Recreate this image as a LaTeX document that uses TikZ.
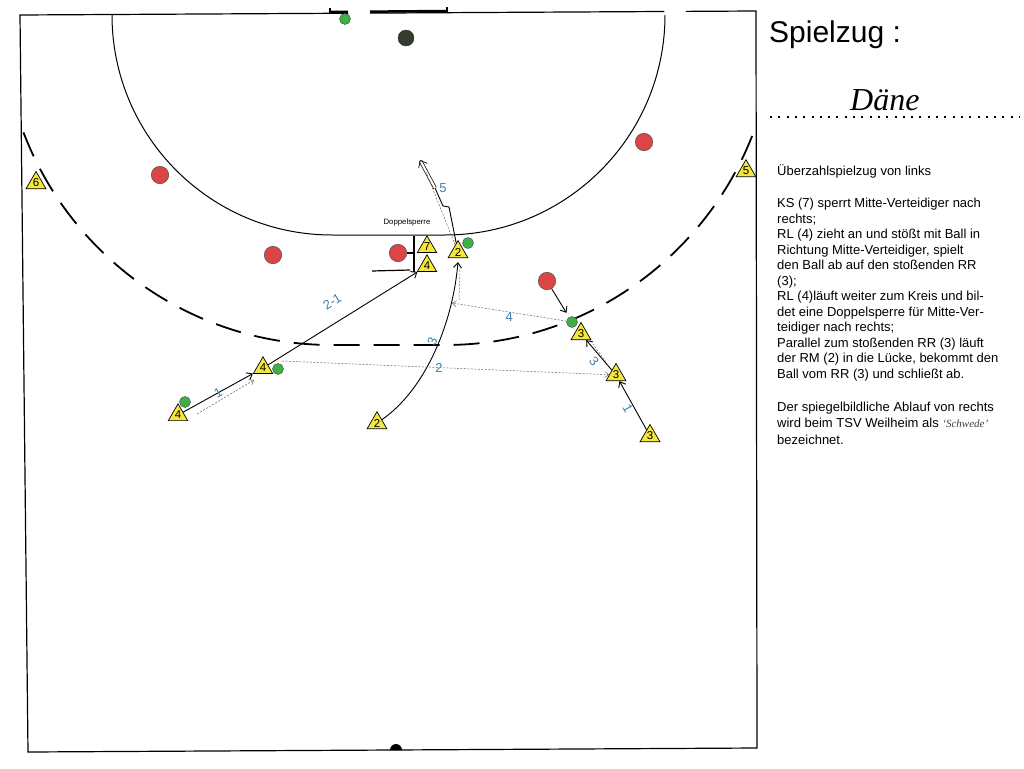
\documentclass[tikz,border=0pt]{standalone}
\usepackage{fontspec}
\setmainfont{Liberation Sans}
\newfontfamily\daene{Liberation Serif}
\usepackage{tikz}
\usetikzlibrary{shapes.geometric,arrows.meta,positioning,calc}
\definecolor{spieler}{RGB}{245,230,60}
\definecolor{abwehrrot}{RGB}{218,70,70}
\definecolor{ballgruen}{RGB}{62,176,72}
\definecolor{torwart}{RGB}{52,60,46}
\definecolor{nummerblau}{RGB}{62,128,172}

\begin{document}
\begin{tikzpicture}[x=1pt, y=-1pt,
        angreifer/.style={regular polygon, regular polygon sides=3, draw, line width=0.7pt, fill=spieler, minimum size=22pt, inner sep=0pt, font=\fontsize{11.5}{11.5}\selectfont},
        abwehr/.style={circle, draw=black!75, fill=abwehrrot, minimum size=17.5pt, inner sep=0pt},
        ball/.style={circle, draw=black!75, fill=ballgruen, minimum size=11pt, inner sep=0pt},
        lauf/.style={draw, -{Straight Barb[length=5pt,width=8pt]}, line width=0.9pt},
        pass/.style={draw, -{Straight Barb[length=4pt,width=6pt]}, black!60, line width=0.5pt, dash pattern=on 2pt off 1.5pt},
        nr/.style={text=nummerblau, inner sep=1pt, font=\fontsize{13}{13}\selectfont},
        linie/.style={line width=1.2pt}]
        \useasboundingbox (0,0) rectangle (1024,768);
        \fill[white] (0,0) rectangle (1024,768);

        % Spielfeld
        \draw[linie] (20,15) -- (756,11) -- (757,748) -- (28,752) -- cycle;
        \draw[line width=2.5pt] (330,12) -- (447,11);
        \draw[line width=1.5pt] (330,8) -- (330,14) (447,7) -- (447,13);
        \draw[line width=1pt] (112,15) arc[start angle=180, end angle=90, radius=220] -- (445,235) arc[start angle=90, end angle=0, radius=220];
        \begin{scope}
            \clip (20,15) -- (756,11) -- (757,748) -- (28,752) -- cycle;
            \draw[line width=1.8pt, dash pattern=on 26pt off 14pt] (2,15) arc[start angle=180, end angle=90, radius=330] -- (445,345) arc[start angle=90, end angle=0, radius=330];
        \end{scope}
        \fill[white] (359,12) circle[radius=11];
        \fill[white] (675,10) circle[radius=11];
        \fill (390,750) arc[start angle=180, end angle=360, radius=6] -- cycle;

        % Abwehr
        \node[circle, draw=black!80, fill=torwart, minimum size=16pt, inner sep=0pt] (tw) at (406,38) {};
        \node[abwehr] (d1) at (160,175) {};
        \node[abwehr] (d2) at (273,255) {};
        \node[abwehr] (d3) at (398,253) {};
        \node[abwehr] (d4) at (547,281) {};
        \node[abwehr] (d5) at (644,142) {};

        % Angriff
        \node[angreifer] (la) at (36,183) {6};
        \node[angreifer] (ra) at (746,171) {5};
        \node[angreifer] (rl1) at (178,415) {4};
        \node[angreifer] (rl2) at (263,368) {4};
        \node[angreifer] (rm1) at (377,423) {2};
        \node[angreifer] (ks) at (427,247) {7};
        \node[angreifer] (rl3) at (427,266) {4};
        \node[angreifer] (rm2) at (458,252) {2};
        \node[angreifer] (rr3) at (581,334) {3};
        \node[angreifer] (rr2) at (616,375) {3};
        \node[angreifer] (rr1) at (650,436) {3};

        \node[ball] (b0) at (345,19) {};
        \node[ball] (b1) at (185,402) {};
        \node[ball] (b2) at (278,369) {};
        \node[ball] (b3) at (468,243) {};
        \node[ball] (b4) at (572,322) {};

        \node[font=\fontsize{7.8}{7.8}\selectfont] (dsp) at (407,222) {Doppelsperre};

        \coordinate (p1a) at (197,414);
        \coordinate (p1b) at (254,380);
        \coordinate (p2a) at (282,361);
        \coordinate (p3a) at (608,365);
        \coordinate (p3b) at (593,344);
        \coordinate (p4) at (452,303);
        \coordinate (p4b) at (459,300);
        \coordinate (p4c) at (460,268);
        \coordinate (p5) at (426,172);
        \coordinate (h0) at (372,271);
        \coordinate (h1) at (410,270);
        \coordinate (s1) at (414,236);
        \coordinate (s2) at (414,272);
        \coordinate (z1) at (449,207);
        \coordinate (z2) at (443,206);
        \coordinate (z3) at (435,188);
        \coordinate (z5) at (420,160);

        % Laufwege
        \path[lauf] (rl1) -- node[nr, sloped, pos=.5] {1} (rl2);
        \path[lauf] (rl2) -- node[nr, sloped, above=14pt, pos=.5] {2-1} (rl3);
        \path[lauf] (rm1) .. controls (422,392) and (452,330) .. node[nr, sloped, above, pos=.57] {3} ([yshift=-4pt]rm2.south);
        \path[lauf] (rr1) -- node[nr, sloped, below, pos=.5] {1} (rr2);
        \path[lauf] (rr2) -- node[nr, sloped, below=2pt, pos=.45] {3} (rr3);
        \path[lauf, shorten >=5pt] (d4) -- (b4);
        \draw[linie] (h0) -- (h1);
        \draw[linie] (s1) -- (s2);
        \draw[linie] (d3) -- (d3 -| s1);
        \draw[line width=0.9pt] (rm2) -- (z1) -- (z2) -- (z3);
        \draw[line width=0.7pt, double distance=2.2pt, -{Straight Barb[length=6pt,width=10pt]}] (z3) -- node[nr, pos=0, right=3pt] {5} (z5);

        % Paesse
        \path[pass] (p1a) -- (p1b);
        \path[pass] (p2a) -- node[nr, pos=.48] {2} (rr2);
        \path[pass] (b4) -- node[nr, pos=.5, below=-1pt] {4} (p4);
        \path[pass, -] (p4b) -- (p4c);
        \path[pass, -] (p3a) -- (p3b);
        \path[pass, -] (rm2) -- (p5);

        % Text
        \node[anchor=base west, inner sep=0pt, font=\fontsize{30}{30}\selectfont] (titel) at (769,42) {Spielzug :};
        \node[anchor=base west, inner sep=0pt, font=\daene\itshape\fontsize{32}{32}\selectfont] (name) at (850,110) {Däne};
        \draw[line width=2pt, dash pattern=on 2pt off 6.3pt] (770,117) -- (1020,117);
        \node[anchor=north west, inner sep=0pt, align=left, font=\fontsize{13}{15.5}\selectfont] (text) at (777,164.5) {%
            Überzahlspielzug von links\\[16.6pt]
            KS (7) sperrt Mitte-Verteidiger nach\\
            rechts;\\
            RL (4) zieht an und stößt mit Ball in\\
            Richtung Mitte-Verteidiger, spielt\\
            den Ball ab auf den stoßenden RR\\
            (3);\\
            RL (4)läuft weiter zum Kreis und bil-\\
            det eine Doppelsperre für Mitte-Ver-\\
            teidiger nach rechts;\\
            Parallel zum stoßenden RR (3) läuft\\
            der RM (2) in die Lücke, bekommt den\\
            Ball vom RR (3) und schließt ab.\\[17.5pt]
            Der spiegelbildliche Ablauf von rechts\\[1pt]
            wird beim TSV Weilheim als {\daene\itshape\fontsize{11}{11}\selectfont\color{black!75}‘Schwede’}\\[1pt]
            bezeichnet.};
    \end{tikzpicture}
\end{document}
